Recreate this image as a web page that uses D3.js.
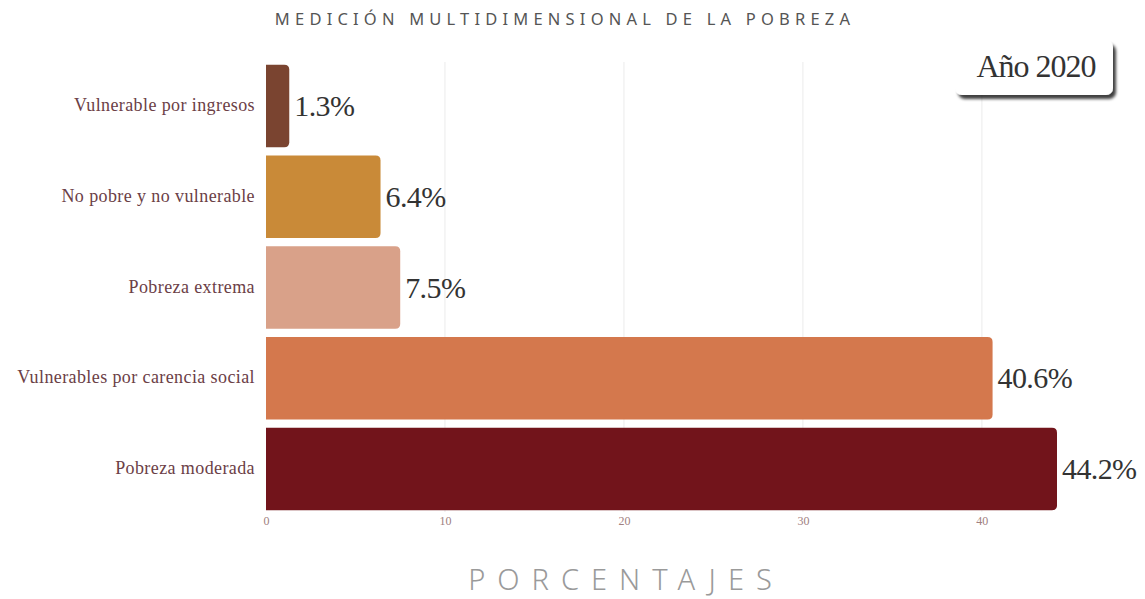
<!DOCTYPE html>
<html>
<head>
<meta charset="utf-8">
<script src="https://cdn.jsdelivr.net/npm/d3@7"></script>
<style>
  body { margin: 0; background: #fff; }
  svg { display: block; }
</style>
</head>
<body>
<svg id="chart" width="1145" height="599"></svg>
<script>
// data
const categories = [
  "Vulnerable por ingresos",
  "No pobre y no vulnerable",
  "Pobreza extrema",
  "Vulnerables por carencia social",
  "Pobreza moderada"
];
const values = [1.3, 6.4, 7.5, 40.6, 44.2];
const barColors = ["#7a4430", "#c98a38", "#d9a189", "#d4784d", "#72141b"];
const xTicks = [0, 10, 20, 30, 40];

const svg = d3.select("#chart");
const margin = { left: 266, right: 88, top: 62, bottom: 86 };
const width = 1145, height = 599;

const x = d3.scaleLinear()
  .domain([0, 44.2])
  .range([margin.left, 1057]);

const y = d3.scaleBand()
  .domain(categories)
  .range([margin.top, height - margin.bottom])
  .paddingInner(0.09)
  .paddingOuter(0.03);

// faint grid lines
svg.append("g")
  .selectAll("line")
  .data(xTicks.slice(1))
  .enter()
  .append("line")
  .attr("x1", d => x(d))
  .attr("x2", d => x(d))
  .attr("y1", 62)
  .attr("y2", 512)
  .attr("stroke", "#f2f2f2")
  .attr("stroke-width", 1.5);

// bars with rounded right corners
function barPath(x0, y0, w, h, r) {
  r = Math.min(r, w / 2, h / 2);
  return `M${x0},${y0}H${x0 + w - r}Q${x0 + w},${y0} ${x0 + w},${y0 + r}` +
    `V${y0 + h - r}Q${x0 + w},${y0 + h} ${x0 + w - r},${y0 + h}H${x0}Z`;
}

svg.append("g")
  .selectAll("path")
  .data(values)
  .enter()
  .append("path")
  .attr("d", (d, i) => barPath(x(0), y(categories[i]), x(d) - x(0), y.bandwidth(), 5))
  .attr("fill", (d, i) => barColors[i]);

// value labels
svg.append("g")
  .selectAll("text")
  .data(values)
  .enter()
  .append("text")
  .attr("x", d => x(d) + 5)
  .attr("y", (d, i) => y(categories[i]) + y.bandwidth() / 2 + 10)
  .attr("font-family", "Liberation Serif, DejaVu Serif, serif")
  .attr("font-size", 30)
  .attr("fill", "#333")
  .attr("letter-spacing", -0.6)
  .text(d => d.toFixed(1) + "%");

// category labels
svg.append("g")
  .selectAll("text")
  .data(categories)
  .enter()
  .append("text")
  .attr("x", 255)
  .attr("y", d => y(d) + y.bandwidth() / 2 + 5)
  .attr("text-anchor", "end")
  .attr("font-family", "Liberation Serif, DejaVu Serif, serif")
  .attr("font-size", 18)
  .attr("letter-spacing", 0.4)
  .attr("fill", "#6b4046")
  .text(d => d);

// x axis tick labels
const xAxis = d3.axisBottom(x).tickValues(xTicks).tickSize(0).tickPadding(0);
const gx = svg.append("g")
  .attr("transform", "translate(0,516)")
  .call(xAxis);
gx.select(".domain").remove();
gx.selectAll("text")
  .attr("font-family", "Liberation Serif, DejaVu Serif, serif")
  .attr("font-size", 12)
  .attr("fill", "#a08080");

// axis title
svg.append("text")
  .attr("x", 626)
  .attr("y", 590)
  .attr("text-anchor", "middle")
  .attr("font-family", "Noto Sans, sans-serif")
  .attr("font-weight", 300)
  .attr("font-size", 29)
  .attr("letter-spacing", 12)
  .attr("fill", "#9a9a9a")
  .text("PORCENTAJES");

// title
svg.append("text")
  .attr("x", 565)
  .attr("y", 25)
  .attr("text-anchor", "middle")
  .attr("font-family", "Noto Sans, sans-serif")
  .attr("font-size", 16.5)
  .attr("letter-spacing", 5.2)
  .attr("fill", "#555")
  .text("MEDICIÓN MULTIDIMENSIONAL DE LA POBREZA");

// year badge
const defs = svg.append("defs");
const f = defs.append("filter").attr("id", "shadow").attr("x", "-20%").attr("y", "-20%").attr("width", "150%").attr("height", "160%");
f.append("feDropShadow")
  .attr("dx", 3).attr("dy", 4).attr("stdDeviation", 1.5)
  .attr("flood-color", "#000").attr("flood-opacity", 0.75);

svg.append("rect")
  .attr("x", 955)
  .attr("y", 40)
  .attr("width", 158)
  .attr("height", 55)
  .attr("rx", 7)
  .attr("fill", "#fff")
  .attr("filter", "url(#shadow)");

svg.append("text")
  .attr("x", 1036)
  .attr("y", 77)
  .attr("text-anchor", "middle")
  .attr("font-family", "Liberation Serif, DejaVu Serif, serif")
  .attr("font-size", 32)
  .attr("letter-spacing", -1)
  .attr("fill", "#333")
  .text("Año 2020");
</script>
</body>
</html>
